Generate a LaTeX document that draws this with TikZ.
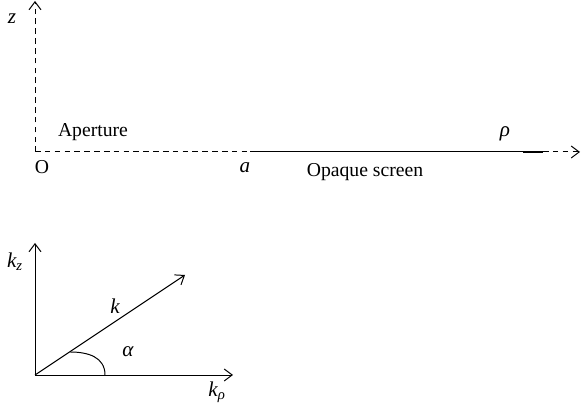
\documentclass[tikz,border=0pt]{standalone}
\usepackage{fontspec}
\setmainfont{Liberation Serif}
\usetikzlibrary{positioning, arrows.meta, calc}

\begin{document}
\begin{tikzpicture}[
        axis/.style={-{Straight Barb[length=2mm, width=3mm]}, line width=0.7pt},
        dashaxis/.style={axis, dash pattern=on 4pt off 3pt},
        lbl/.style={font=\fontsize{14}{16}\selectfont, inner sep=1pt},
        sym/.style={lbl, font=\fontsize{15}{17}\selectfont\itshape}
    ]
    \useasboundingbox (0,0) rectangle (14.575,10.375);

    % screen plane
    \coordinate (O) at (0.875, 6.575);
    \coordinate (ztop) at (0.875, 10.35);
    \coordinate (a) at (6.25, 6.575);
    \coordinate (sEnd) at (13.075, 6.575);
    \coordinate (sThick) at (13.575, 6.575);
    \coordinate (rhoEnd) at (14.5, 6.575);

    \draw[dashaxis] (O) -- (ztop);
    \draw[line width=0.7pt, dash pattern=on 4pt off 3pt] (O) -- (a);
    \draw[line width=0.7pt] (a) -- (sEnd);
    \draw[line width=1.2pt] (sEnd) -- (sThick);
    \draw[dashaxis] (sThick) -- (rhoEnd);

    \node[sym] (zlab) at (0.3, 9.9) {z};
    \node[lbl] (olab) at (1.05, 6.2) {O};
    \node[lbl] (aplab) at (2.325, 7.075) {Aperture};
    \node[sym] (alab) at (6.125, 6.175) {a};
    \node[lbl] (oslab) at (9.125, 6.075) {Opaque screen};
    \node[sym] (rholab) at (12.625, 7.025) {ρ};

    % wave vector
    \coordinate (K) at (0.875, 1.0);
    \coordinate (kzTop) at (0.875, 4.3);
    \coordinate (krEnd) at (5.825, 1.0);
    \coordinate (kEnd) at (4.625, 3.5);

    \draw[axis] (K) -- (kzTop);
    \draw[axis] (K) -- (krEnd);
    \draw[axis] (K) -- (kEnd);
    \draw[line width=0.7pt] (2.625, 1.0) .. controls (2.625, 1.45) and (2.2, 1.575) .. (1.75, 1.575);

    \node[sym] (kzlab) at (0.375, 3.825) {k\textsubscript{z}};
    \node[sym] (klab) at (2.875, 2.725) {k};
    \node[sym] (alphalab) at (3.2, 1.575) {α};
    \node[sym] (krlab) at (5.425, 0.575) {k\textsubscript{ρ}};

\end{tikzpicture}
\end{document}
